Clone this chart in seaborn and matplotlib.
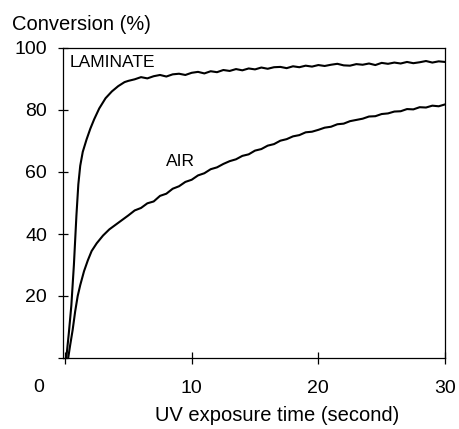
import pandas as pd
import matplotlib.pyplot as plt
import seaborn as sns

# Conversion curves (time in s, conversion in %)
laminate_time = [0.1, 0.3, 0.5, 0.7, 0.9, 1.05, 1.2, 1.4, 1.7, 2.0, 2.3, 2.7, 3.2, 3.7, 4.2, 4.7,
                 5.0, 5.5, 6.0, 6.5, 7.0, 7.5, 8.0, 8.5, 9.0, 9.5, 10, 10.5, 11, 11.5, 12, 12.5,
                 13, 13.5, 14, 14.5, 15, 15.5, 16, 16.5, 17, 17.5, 18, 18.5, 19, 19.5, 20, 20.5,
                 21, 21.5, 22, 22.5, 23, 23.5, 24, 24.5, 25, 25.5, 26, 26.5, 27, 27.5, 28, 28.5,
                 29, 29.5, 30]
laminate_conv = [0, 8, 17, 30, 46, 56, 62, 66.5, 70.5, 74, 77, 80.5, 83.8, 86, 87.7, 89,
                 89.4, 89.9, 90.6, 90.2, 90.9, 91.3, 90.8, 91.5, 91.7, 91.3, 92.0, 92.3, 91.8, 92.5, 92.2, 92.9,
                 92.6, 93.2, 92.8, 93.4, 93.1, 93.7, 93.3, 93.8, 93.9, 93.5, 94.1, 93.8, 94.3, 94.0, 94.5, 94.2,
                 94.6, 94.9, 94.4, 94.3, 94.8, 94.6, 95.0, 94.5, 95.2, 94.9, 95.3, 95.0, 95.5, 95.1, 95.4, 95.8,
                 95.3, 95.7, 95.5]

air_time = [0.25, 0.4, 0.6, 0.8, 1.0, 1.2, 1.5, 1.8, 2.1, 2.5, 3.0, 3.5, 4.0, 4.5,
            5.0, 5.5, 6.0, 6.5, 7.0, 7.5, 8.0, 8.5, 9.0, 9.5, 10, 10.5, 11, 11.5, 12, 12.5,
            13, 13.5, 14, 14.5, 15, 15.5, 16, 16.5, 17, 17.5, 18, 18.5, 19, 19.5, 20, 20.5,
            21, 21.5, 22, 22.5, 23, 23.5, 24, 24.5, 25, 25.5, 26, 26.5, 27, 27.5, 28, 28.5,
            29, 29.5, 30]
air_conv = [0, 4, 9, 15, 20, 23.5, 28, 31.5, 34.5, 37, 39.5, 41.5, 43, 44.5,
            46.0, 47.6, 48.4, 49.9, 50.5, 52.3, 53.0, 54.6, 55.4, 56.8, 57.5, 58.9, 59.6, 60.9, 61.5, 62.6,
            63.5, 64.1, 65.2, 65.7, 66.9, 67.4, 68.5, 69.0, 70.1, 70.6, 71.5, 71.9, 72.8, 73.0, 73.6, 74.3,
            74.6, 75.4, 75.6, 76.4, 76.8, 77.2, 77.9, 78.0, 78.7, 78.9, 79.5, 79.6, 80.3, 80.2, 80.9, 80.8,
            81.4, 81.2, 81.8]

x_ticks = [0, 10, 20, 30]
x_labels = ['', '10', '20', '30']
y_ticks = [0, 20, 40, 60, 80, 100]
y_labels = ['', '20', '40', '60', '80', '100']

sns.set_style('ticks')
plt.rcParams['font.family'] = ['Liberation Sans', 'DejaVu Sans']
plt.rcParams['text.color'] = 'black'
plt.rcParams['axes.labelcolor'] = 'black'
plt.rcParams['xtick.color'] = 'black'
plt.rcParams['ytick.color'] = 'black'

lam = pd.DataFrame({'t': laminate_time, 'conv': laminate_conv})
air = pd.DataFrame({'t': air_time, 'conv': air_conv})

fig = plt.figure(figsize=(4.6, 4.29), dpi=100)
ax = fig.add_axes([63 / 460, 1 - 358 / 429, 382 / 460, 310 / 429])

sns.lineplot(data=lam, x='t', y='conv', color='black', linewidth=1.5, ax=ax)
sns.lineplot(data=air, x='t', y='conv', color='black', linewidth=1.5, ax=ax)

ax.set_xlim(-0.16, 30)
ax.set_ylim(0, 100)
ax.set_xticks(x_ticks)
ax.set_xticklabels(x_labels)
ax.set_yticks(y_ticks)
ax.set_yticklabels(y_labels)
ax.tick_params(axis='x', direction='inout', length=9, width=0.9, pad=11, labelsize=14)
ax.tick_params(axis='y', direction='inout', length=7, width=0.9, pad=8, labelsize=14)
for s in ax.spines.values():
    s.set_linewidth(0.9)
    s.set_color('black')

ax.set_xlabel('UV exposure time (second)', fontsize=14.5)
ax.xaxis.set_label_coords(0.56, -0.184)
ax.xaxis.label.set_va('center')
ax.set_ylabel('Conversion (%)', fontsize=14.5, rotation=0, ha='left', va='center')
ax.yaxis.set_label_coords(-0.1335, 1.077)

ax.text(-0.063, -0.094, '0', transform=ax.transAxes, fontsize=14, ha='center', va='center')
ax.text(0.4, 95.2, 'LAMINATE', fontsize=12.5, ha='left', va='center')
ax.text(8.0, 63.5, 'AIR', fontsize=12.5, ha='left', va='center')

fig.savefig('out.png', dpi=100)
